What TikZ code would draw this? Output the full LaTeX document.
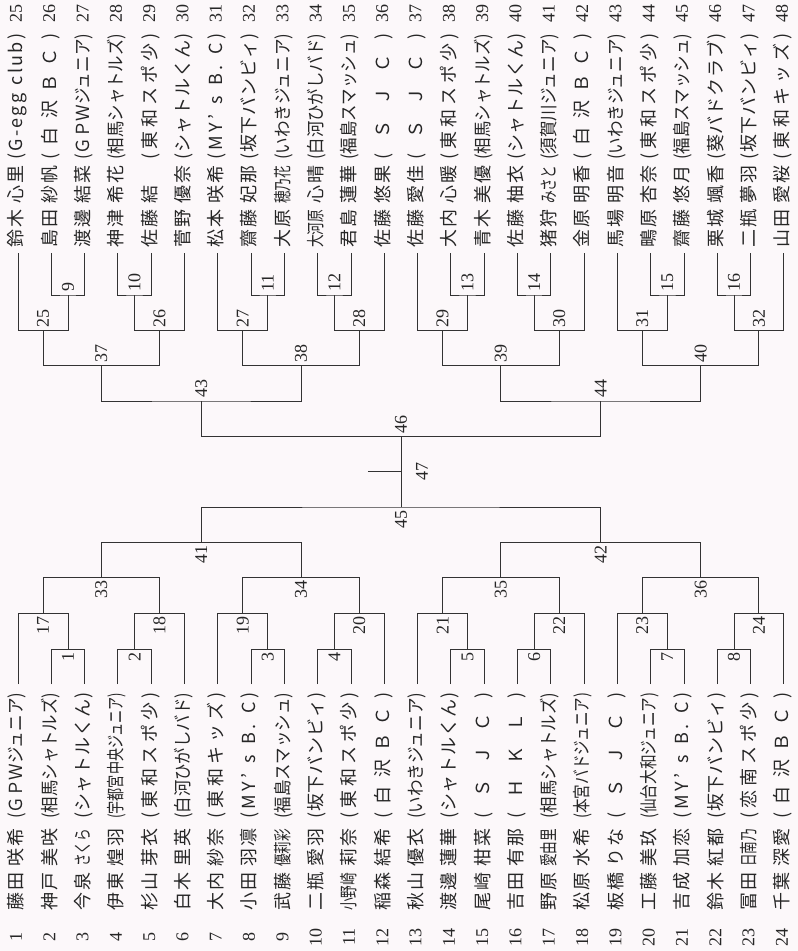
\documentclass[tikz,border=0pt]{standalone}
\usepackage{fontspec}
\usepackage{graphicx}
\setmainfont{Liberation Serif}
\newfontfamily\jp{Noto Sans CJK JP}
\usetikzlibrary{calc}
\hbadness=10000 \hfuzz=200pt
\newdimen\pxu \pxu=0.75pt
\newsavebox\fitbox
\newcommand\fs{\fontsize{13.5pt}{14pt}\selectfont}
\makeatletter
\newcommand\fit@loop[1]{\@tfor\@c:=#1\do{\fit@sep\@c\def\fit@sep{\hfil}}}
\newcommand\spreadto[2]{\hbox to #1{\def\fit@sep{}\expandafter\fit@loop\expandafter{#2}}}
\newcommand\fitto[2]{\sbox\fitbox{#2}\ifdim\wd\fitbox>#1\relax\resizebox{#1}{\height}{\usebox\fitbox}\else\spreadto{#1}{#2}\fi}
\makeatother
\definecolor{bgcol}{RGB}{252,248,250}
\newcommand\mtb[4]{\coordinate (tmp) at ($(#2)!.5!(#3)$);\coordinate (m#1) at (tmp |- #4);\draw[br] (#2) |- (m#1) -| (#3);\node[lbl,anchor=east] (l#1) at ([yshift=-2.2pt]m#1) {#1};}
\newcommand\mtt[4]{\coordinate (tmp) at ($(#2)!.5!(#3)$);\coordinate (m#1) at (tmp |- #4);\draw[br] (#2) |- (m#1) -| (#3);\node[lbl,anchor=west] (l#1) at ([yshift=2.2pt]m#1) {#1};}
\begin{document}
\begin{tikzpicture}[x=0.75pt,y=-0.75pt,
 br/.style={draw=black!80,line width=0.65pt},
 num/.style={font=\fs,text=black!85,rotate=90,inner sep=0pt},
 nm/.style={font=\jp\fs,text=black!85,rotate=90,inner sep=0pt,text height=11.9pt,text depth=1.6pt,anchor=west},
 lbl/.style={font=\fs,text=black!85,rotate=90,inner sep=0pt}]
\fill[bgcol] (0,0) rectangle (798,951);
\useasboundingbox (0,0) rectangle (798,951);
% bottom players 1-24
\foreach \nn/\sn/\gn/\tm [count=\i] in {
1/藤田/咲希/(ＧＰＷジュニア),
2/神戸/美咲/(相馬シャトルズ),
3/今泉/さくら/(シャトルくん),
4/伊東/煌羽/(宇都宮中央ジュニア),
5/杉山/芽衣/(東和スポ少),
6/白木/里英/(白河ひがしバド),
7/大内/紗奈/(東和キッズ),
8/小田/羽凛/(MY’{~}s{~}B.{~}C),
9/武藤/優莉彩/(福島スマッシュ),
10/二瓶/愛羽/(坂下バンビィ),
11/小野崎/莉奈/(東和スポ少),
12/稲森/結希/(白沢ＢＣ),
13/秋山/優衣/(いわきジュニア),
14/渡邊/蓮華/(シャトルくん),
15/尾崎/柑菜/(ＳＪＣ),
16/吉田/有那/(ＨＫＬ),
17/野原/愛由里/(相馬シャトルズ),
18/松原/水希/(本宮バドジュニア),
19/板橋/りな/(ＳＪＣ),
20/工藤/美玖/(仙台大和ジュニア),
21/吉成/加恋/(MY’{~}s{~}B.{~}C),
22/鈴木/紅都/(坂下バンビィ),
23/冨田/日南乃/(恋南スポ少),
24/千葉/深愛/(白沢ＢＣ)}{
 \pgfmathsetmacro\xx{16+33.3*(\i-1)}
 \node[num] (nb\i) at (\xx,937) {\nn};
 \node[nm] (sb\i) at (\xx,911) {\fitto{38\pxu}{\sn}};
 \node[nm] (gb\i) at (\xx,867) {\fitto{38\pxu}{\gn}};
 \node[nm] (tb\i) at (\xx,819) {\fitto{126\pxu}{\tm}};
}
% top players 25-48
\foreach \nn/\sn/\gn/\tm [count=\i] in {
25/鈴木/心里/(G-egg{~}club),
26/島田/紗帆/(白沢ＢＣ),
27/渡邊/結菜/(ＧＰＷジュニア),
28/神津/希花/(相馬シャトルズ),
29/佐藤/結/(東和スポ少),
30/菅野/優奈/(シャトルくん),
31/松本/咲希/(MY’{~}s{~}B.{~}C),
32/齋藤/妃那/(坂下バンビィ),
33/大原/穂乃花/(いわきジュニア),
34/大河原/心晴/(白河ひがしバド),
35/君島/蓮華/(福島スマッシュ),
36/佐藤/悠果/(ＳＪＣ),
37/佐藤/愛佳/(ＳＪＣ),
38/大内/心暖/(東和スポ少),
39/青木/美優/(相馬シャトルズ),
40/佐藤/柚衣/(シャトルくん),
41/猪狩/みさと/(須賀川ジュニア),
42/金原/明香/(白沢ＢＣ),
43/馬場/明音/(いわきジュニア),
44/鴫原/杏奈/(東和スポ少),
45/齋藤/悠月/(福島スマッシュ),
46/栗城/颯香/(葵バドクラブ),
47/二瓶/夢羽/(坂下バンビィ),
48/山田/愛桜/(東和キッズ)}{
 \pgfmathsetmacro\xx{16+33.3*(\i-1)}
 \node[num] (nt\i) at (\xx,13.5) {\nn};
 \node[nm] (st\i) at (\xx,248) {\fitto{38\pxu}{\sn}};
 \node[nm] (gt\i) at (\xx,204) {\fitto{38\pxu}{\gn}};
 \node[nm] (tt\i) at (\xx,160) {\fitto{126\pxu}{\tm}};
}
% leaves
\foreach \i in {1,...,24}{
 \pgfmathsetmacro\xx{18+33.3*(\i-1)}
 \pgfmathtruncatemacro\k{24+\i}
 \coordinate (p\i) at (\xx,684);
 \coordinate (p\k) at (\xx,253);
}
% levels
\coordinate (Lb1) at (0,649); \coordinate (Lb2) at (0,613.5); \coordinate (Lb3) at (0,577.5);
\coordinate (Lb4) at (0,542.5); \coordinate (Lb5) at (0,507);
\coordinate (Lt1) at (0,295); \coordinate (Lt2) at (0,330.5); \coordinate (Lt3) at (0,365.5);
\coordinate (Lt4) at (0,401); \coordinate (Lt5) at (0,436.5);
% bottom half
\mtb{1}{p2}{p3}{Lb1} \mtb{2}{p4}{p5}{Lb1} \mtb{3}{p8}{p9}{Lb1} \mtb{4}{p10}{p11}{Lb1}
\mtb{5}{p14}{p15}{Lb1} \mtb{6}{p16}{p17}{Lb1} \mtb{7}{p20}{p21}{Lb1} \mtb{8}{p22}{p23}{Lb1}
\mtb{17}{p1}{m1}{Lb2} \mtb{18}{m2}{p6}{Lb2} \mtb{19}{p7}{m3}{Lb2} \mtb{20}{m4}{p12}{Lb2}
\mtb{21}{p13}{m5}{Lb2} \mtb{22}{m6}{p18}{Lb2} \mtb{23}{p19}{m7}{Lb2} \mtb{24}{m8}{p24}{Lb2}
\mtb{33}{m17}{m18}{Lb3} \mtb{34}{m19}{m20}{Lb3} \mtb{35}{m21}{m22}{Lb3} \mtb{36}{m23}{m24}{Lb3}
\mtb{41}{m33}{m34}{Lb4} \mtb{42}{m35}{m36}{Lb4}
\mtb{45}{m41}{m42}{Lb5}
% top half
\mtt{9}{p26}{p27}{Lt1} \mtt{10}{p28}{p29}{Lt1} \mtt{11}{p32}{p33}{Lt1} \mtt{12}{p34}{p35}{Lt1}
\mtt{13}{p38}{p39}{Lt1} \mtt{14}{p40}{p41}{Lt1} \mtt{15}{p44}{p45}{Lt1} \mtt{16}{p46}{p47}{Lt1}
\mtt{25}{p25}{m9}{Lt2} \mtt{26}{m10}{p30}{Lt2} \mtt{27}{p31}{m11}{Lt2} \mtt{28}{m12}{p36}{Lt2}
\mtt{29}{p37}{m13}{Lt2} \mtt{30}{m14}{p42}{Lt2} \mtt{31}{p43}{m15}{Lt2} \mtt{32}{m16}{p48}{Lt2}
\mtt{37}{m25}{m26}{Lt3} \mtt{38}{m27}{m28}{Lt3} \mtt{39}{m29}{m30}{Lt3} \mtt{40}{m31}{m32}{Lt3}
\mtt{43}{m37}{m38}{Lt4} \mtt{44}{m39}{m40}{Lt4}
\mtt{46}{m43}{m44}{Lt5}
% final
\draw[br] (m45) -- (m46);
\coordinate (fc) at ($(m45)!.5!(m46)$);
\coordinate (win) at ([xshift=-24.75pt]fc);
\draw[br] (win) -- (fc);
\node[lbl] (l47) at ([xshift=15.75pt]fc) {47};
\end{tikzpicture}
\end{document}
